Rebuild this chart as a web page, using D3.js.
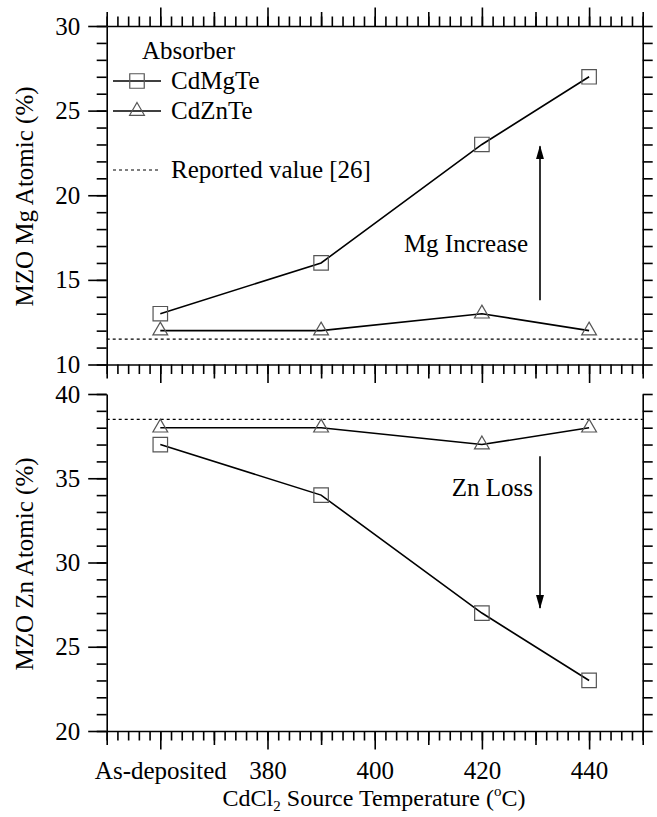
<!DOCTYPE html>
<html><head><meta charset="utf-8">
<script src="https://cdn.jsdelivr.net/npm/d3@7"></script>
<style>
html,body{margin:0;padding:0;background:#fff;}
svg text{font-family:"Liberation Serif","Times New Roman",serif;fill:#000;}
</style></head>
<body><svg id="c" width="657" height="817"></svg>
<script>
// ---------- data ----------
const temps = [360, 390, 420, 440];           // 360 = "As-deposited" position
const xTickValues = [360, 380, 400, 420, 440];
const xTickLabels = ["As-deposited", "380", "400", "420", "440"];
const mgCdMgTe = [13, 16, 23, 27];
const mgCdZnTe = [12, 12, 13, 12];
const znCdMgTe = [37, 34, 27, 23];
const znCdZnTe = [38, 38, 37, 38];
const mgReported = 11.5;
const znReported = 38.5;
const seriesNames = ["CdMgTe", "CdZnTe"];

// ---------- layout ----------
const svg = d3.select("#c");
const L = 106.7, R = 642.7;
const topP = {y0: 26, y1: 364.5};
const botP = {y0: 394, y1: 731};
const FS = 25;

const x = d3.scaleLinear().domain([350, 450]).range([L, R]);
const yTop = d3.scaleLinear().domain([10, 30]).range([topP.y1, topP.y0]);
const yBot = d3.scaleLinear().domain([20, 40]).range([botP.y1, botP.y0]);

const minorX = d3.range(350, 451, 2);
const medX = d3.range(350, 451, 20);
const longX = d3.range(360, 451, 20);

function styleAxis(g){
  g.selectAll(".domain").attr("stroke","#000").attr("stroke-width",1.6);
  g.selectAll(".tick line").attr("stroke","#000").attr("stroke-width",1.6);
  g.selectAll(".tick text").attr("font-size",FS).attr("font-family","Liberation Serif");
}
function xAxes(yPos, dir, withLabels){
  const mk = dir === "up" ? d3.axisTop : d3.axisBottom;
  const g1 = svg.append("g").attr("transform",`translate(0,${yPos})`)
    .call(mk(x).tickValues(minorX).tickSize(9.5).tickFormat("").tickSizeOuter(0));
  styleAxis(g1);
  const g2 = svg.append("g").attr("transform",`translate(0,${yPos})`)
    .call(mk(x).tickValues(medX).tickSize(14).tickFormat("").tickSizeOuter(0));
  styleAxis(g2); g2.select(".domain").remove();
  const g3 = svg.append("g").attr("transform",`translate(0,${yPos})`)
    .call(mk(x).tickValues(longX).tickSize(18.5).tickSizeOuter(0)
      .tickFormat(withLabels ? (d)=>xTickLabels[xTickValues.indexOf(d)] || "" : ""));
  styleAxis(g3); g3.select(".domain").remove();
  if (withLabels) g3.selectAll(".tick text").attr("dy", "1.05em");
}
function yAxes(y, domain){
  const minor = d3.range(domain[0], domain[1]+0.01, 1);
  const major = d3.range(domain[0], domain[1]+0.01, 5);
  const gl = svg.append("g").attr("transform",`translate(${L},0)`)
    .call(d3.axisLeft(y).tickValues(minor).tickSize(10).tickFormat("").tickSizeOuter(0));
  styleAxis(gl);
  const gl2 = svg.append("g").attr("transform",`translate(${L},0)`)
    .call(d3.axisLeft(y).tickValues(major).tickSize(18.5).tickPadding(8).tickFormat(d3.format("d")).tickSizeOuter(0));
  styleAxis(gl2); gl2.select(".domain").remove();
  const gr = svg.append("g").attr("transform",`translate(${R},0)`)
    .call(d3.axisRight(y).tickValues(minor).tickSize(10).tickFormat("").tickSizeOuter(0));
  styleAxis(gr);
}

// top panel axes
xAxes(topP.y0, "up", false);
xAxes(topP.y1, "down", false);
yAxes(yTop, [10, 30]);
// bottom panel axes
xAxes(botP.y1, "down", true);
yAxes(yBot, [20, 40]);

// reported value dotted lines
function dotted(yv){
  svg.append("line").attr("x1",L).attr("x2",R).attr("y1",yv).attr("y2",yv)
    .attr("stroke","#000").attr("stroke-width",1.2).attr("stroke-dasharray","3,3");
}
dotted(yTop(mgReported));
dotted(yBot(znReported));

// series
const line = (y) => d3.line().x((d,i)=>x(temps[i])).y(d=>y(d));
const symFor = (shape) => d3.symbol().type(shape === "sq" ? d3.symbolSquare : d3.symbolTriangle)
    .size(shape === "sq" ? 210 : 95);
function series(vals, y, shape){
  svg.append("path").datum(vals).attr("d", line(y)).attr("fill","none")
    .attr("stroke","#000").attr("stroke-width",1.6);
  svg.append("g").selectAll("path").data(vals).join("path")
    .attr("transform",(d,i)=>`translate(${x(temps[i])},${y(d)})`)
    .attr("d", symFor(shape)).attr("fill","none").attr("stroke","#555").attr("stroke-width",1.2);
}
series(mgCdMgTe, yTop, "sq");
series(mgCdZnTe, yTop, "tri");
series(znCdMgTe, yBot, "sq");
series(znCdZnTe, yBot, "tri");

// legend
svg.append("text").attr("x",142).attr("y",59).attr("font-size",FS).text("Absorber");
const legY = [81, 111];
const legShapes = ["sq","tri"];
legY.forEach((ly,i)=>{
  svg.append("line").attr("x1",113).attr("x2",161).attr("y1",ly).attr("y2",ly)
    .attr("stroke","#000").attr("stroke-width",1.6);
  svg.append("path").attr("d",symFor(legShapes[i])).attr("transform",`translate(137,${ly})`)
    .attr("fill","none").attr("stroke","#555").attr("stroke-width",1.2);
  svg.append("text").attr("x",171).attr("y",ly+8).attr("font-size",FS).text(seriesNames[i]);
});
svg.append("line").attr("x1",113).attr("x2",161).attr("y1",170).attr("y2",170)
  .attr("stroke","#000").attr("stroke-width",1.2).attr("stroke-dasharray","3,3");
svg.append("text").attr("x",171).attr("y",178).attr("font-size",FS).text("Reported value [26]");

// annotations
const defs = svg.append("defs");
defs.append("marker").attr("id","ah").attr("viewBox","0 0 14 8").attr("refX",13).attr("refY",4)
  .attr("markerWidth",14).attr("markerHeight",8).attr("markerUnits","userSpaceOnUse").attr("orient","auto")
  .append("path").attr("d","M0,0 L14,4 L0,8 Z").attr("fill","#000");
svg.append("line").attr("x1",540).attr("x2",540).attr("y1",yTop(13.8)).attr("y2",yTop(22.9))
  .attr("stroke","#000").attr("stroke-width",1.6).attr("marker-end","url(#ah)");
svg.append("text").attr("x",466).attr("y",252).attr("text-anchor","middle").attr("font-size",FS).text("Mg Increase");
svg.append("line").attr("x1",540).attr("x2",540).attr("y1",yBot(36.3)).attr("y2",yBot(27.3))
  .attr("stroke","#000").attr("stroke-width",1.6).attr("marker-end","url(#ah)");
svg.append("text").attr("x",533).attr("y",496).attr("text-anchor","end").attr("font-size",FS).text("Zn Loss");

// axis titles
svg.append("text").attr("transform",`translate(33,196.5) rotate(-90)`)
  .attr("text-anchor","middle").attr("font-size",FS).text("MZO Mg Atomic (%)");
svg.append("text").attr("transform",`translate(33,564) rotate(-90)`)
  .attr("text-anchor","middle").attr("font-size",FS).text("MZO Zn Atomic (%)");
const xt = svg.append("text").attr("x",374).attr("y",806).attr("text-anchor","middle").attr("font-size",24);
xt.append("tspan").text("CdCl");
xt.append("tspan").attr("font-size",15).attr("dy",5).text("2");
xt.append("tspan").attr("dy",-5).text(" Source Temperature (");
xt.append("tspan").attr("font-size",15).attr("dy",-10).text("o");
xt.append("tspan").attr("dy",10).text("C)");
</script></body></html>
